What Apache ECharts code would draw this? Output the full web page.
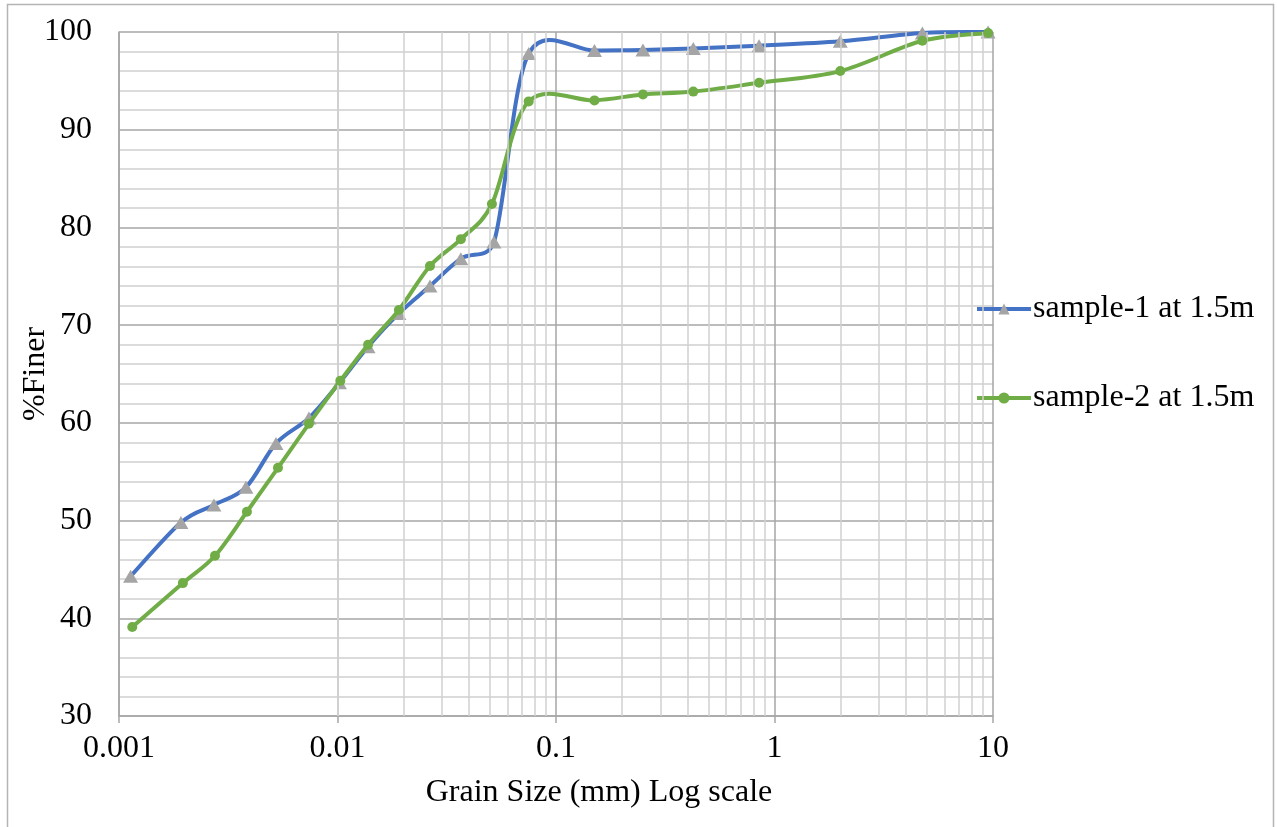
<!DOCTYPE html>
<html>
<head>
<meta charset="utf-8">
<title>Grain size distribution</title>
<script src="https://cdn.jsdelivr.net/npm/echarts@6/dist/echarts.min.js"></script>
<style>
  html, body { margin: 0; padding: 0; background: #ffffff; }
  #chart { width: 1277px; height: 827px; }
</style>
</head>
<body>
<div id="chart"></div>
<script>
// Particle size (mm) and percent finer for each sample
const sample1Size = [0.00113, 0.00192, 0.00272, 0.00381, 0.00523, 0.0074, 0.0102, 0.0138, 0.0191, 0.0265, 0.0367, 0.052, 0.075, 0.15, 0.25, 0.425, 0.85, 2.0, 4.75, 9.5];
const sample1Finer = [44.3, 49.8, 51.6, 53.4, 57.9, 60.5, 64.1, 67.8, 71.2, 74.0, 76.8, 78.5, 97.8, 98.1, 98.15, 98.3, 98.6, 99.05, 99.9, 100];

const sample2Size = [0.00115, 0.00196, 0.00275, 0.00385, 0.00534, 0.0074, 0.0103, 0.0138, 0.0191, 0.0265, 0.0367, 0.0509, 0.075, 0.15, 0.25, 0.425, 0.85, 2.0, 4.75, 9.5];
const sample2Finer = [39.1, 43.6, 46.4, 50.9, 55.4, 59.9, 64.3, 68.0, 71.55, 76.05, 78.8, 82.4, 92.9, 93.0, 93.6, 93.9, 94.8, 96.0, 99.1, 99.9];

const seriesNames = ['sample-1 at 1.5m', 'sample-2 at 1.5m'];
const lineColors = ['#4472c4', '#70ad47'];
const markerColors = ['#a5a5a5', '#70ad47'];

// Minor grid positions inside each decade (2..9 x 10^n)
const decades = [0.001, 0.01, 0.1, 1];
const minorMultipliers = [2, 3, 4, 5, 6, 7, 8, 9];

const FONT = "'Liberation Serif', 'Times New Roman', serif";

const minorX = [];
decades.forEach(d => minorMultipliers.forEach(m => minorX.push(+(d * m).toPrecision(3))));

const pairs = (xs, ys) => xs.map((x, i) => [x, ys[i]]);

// Scale a control arm so it is no longer than half of its segment
function limitArm(dx, dy, segLen) {
  const len = Math.hypot(dx, dy);
  const maxLen = segLen * 0.5;
  if (len > maxLen && len > 0) {
    const k = maxLen / len;
    return [dx * k, dy * k];
  }
  return [dx, dy];
}

// Smoothed curve (Catmull-Rom as cubic Bezier) through the points,
// computed in pixel space from the axis coordinates.
function smoothCurve(xs, ys, color, z) {
  return {
    type: 'custom',
    coordinateSystem: 'cartesian2d',
    silent: true,
    z: z,
    data: pairs(xs, ys),
    encode: { x: 0, y: 1 },
    renderItem: function (params, api) {
      if (params.dataIndex !== 0) return null;
      const p = xs.map((x, i) => api.coord([x, ys[i]]));
      const n = p.length;
      let d = 'M' + p[0][0] + ' ' + p[0][1];
      for (let i = 0; i < n - 1; i++) {
        const p0 = p[Math.max(i - 1, 0)];
        const p1 = p[i];
        const p2 = p[i + 1];
        const p3 = p[Math.min(i + 2, n - 1)];
        const seg = Math.hypot(p2[0] - p1[0], p2[1] - p1[1]);
        const a1 = limitArm((p2[0] - p0[0]) / 6, (p2[1] - p0[1]) / 6, seg);
        const a2 = limitArm((p3[0] - p1[0]) / 6, (p3[1] - p1[1]) / 6, seg);
        d += ' C' + (p1[0] + a1[0]) + ' ' + (p1[1] + a1[1]) + ' ' +
             (p2[0] - a2[0]) + ' ' + (p2[1] - a2[1]) + ' ' + p2[0] + ' ' + p2[1];
      }
      return {
        type: 'path',
        shape: { pathData: d },
        style: { fill: 'none', stroke: color, lineWidth: 4, lineJoin: 'round', lineCap: 'round' }
      };
    }
  };
}

const chart = echarts.init(document.getElementById('chart'), null, { renderer: 'canvas' });

chart.setOption({
  backgroundColor: '#ffffff',
  animation: false,
  textStyle: { fontFamily: FONT, color: '#000' },
  grid: { left: 119, top: 32, width: 874, height: 684, containLabel: false, outerBoundsMode: 'none' },
  graphic: [{
    type: 'rect',
    shape: { x: 7.5, y: 4.5, width: 1266, height: 840 },
    style: { fill: 'none', stroke: '#b4b4b4', lineWidth: 1.5 },
    silent: true,
    z: -10
  }],
  legend: {
    orient: 'vertical',
    left: 970,
    top: 288,
    itemWidth: 54,
    itemHeight: 14,
    itemGap: 57,
    textStyle: { fontFamily: FONT, fontSize: 32, color: '#000', padding: [0, 0, 0, -3] },
    data: seriesNames.map((name, i) => ({
      name: name,
      lineStyle: { color: lineColors[i], width: 4, opacity: 1 },
      itemStyle: { color: markerColors[i], opacity: 1 }
    }))
  },
  xAxis: {
    type: 'log',
    logBase: 10,
    min: 0.001,
    max: 10,
    name: 'Grain Size (mm) Log scale',
    nameLocation: 'middle',
    nameGap: 61,
    nameTextStyle: { fontFamily: FONT, fontSize: 32, color: '#000', padding: [0, 0, 0, 86] },
    axisLine: { show: true, lineStyle: { color: '#a6a6a6', width: 1.5 } },
    axisTick: { show: true, length: 7, lineStyle: { color: '#a6a6a6', width: 1.5 } },
    axisLabel: {
      fontFamily: FONT, fontSize: 32, color: '#000', margin: 17,
      formatter: v => String(+v.toPrecision(3))
    },
    splitLine: { show: true, lineStyle: { color: '#a6a6a6', width: 1.5 } },
    minorTick: { show: false },
    minorSplitLine: { show: false }
  },
  yAxis: {
    type: 'value',
    min: 30,
    max: 100,
    interval: 10,
    name: '%Finer',
    nameLocation: 'middle',
    nameGap: 67,
    nameMoveOverlap: false,
    nameTextStyle: { fontFamily: FONT, fontSize: 32, color: '#000' },
    axisLine: { show: true, lineStyle: { color: '#a6a6a6', width: 1.5 } },
    axisTick: { show: false },
    axisLabel: { fontFamily: FONT, fontSize: 32, color: '#000', margin: 27 },
    splitLine: { show: true, lineStyle: { color: '#a6a6a6', width: 1.5 } },
    minorTick: { show: false, splitNumber: 5 },
    minorSplitLine: { show: true, lineStyle: { color: '#d0d0d0', width: 1.5 } }
  },
  series: [
    {
      // carries the vertical minor grid lines of the log axis
      name: 'minor-grid',
      type: 'line',
      data: [],
      silent: true,
      z: 1,
      markLine: {
        silent: true,
        symbol: ['none', 'none'],
        label: { show: false },
        lineStyle: { color: '#d0d0d0', width: 1.5, type: 'solid' },
        emphasis: { disabled: true },
        data: minorX.map(v => ({ xAxis: v }))
      }
    },
    smoothCurve(sample1Size, sample1Finer, lineColors[0], 2),
    {
      name: seriesNames[0],
      type: 'line',
      z: 3,
      data: pairs(sample1Size, sample1Finer),
      symbol: 'triangle',
      symbolSize: [15, 13],
      itemStyle: { color: markerColors[0] },
      lineStyle: { color: lineColors[0], width: 4, opacity: 0 }
    },
    smoothCurve(sample2Size, sample2Finer, lineColors[1], 4),
    {
      name: seriesNames[1],
      type: 'line',
      z: 5,
      data: pairs(sample2Size, sample2Finer),
      symbol: 'circle',
      symbolSize: 10,
      itemStyle: { color: markerColors[1] },
      lineStyle: { color: lineColors[1], width: 4, opacity: 0 }
    }
  ]
});
</script>
</body>
</html>
